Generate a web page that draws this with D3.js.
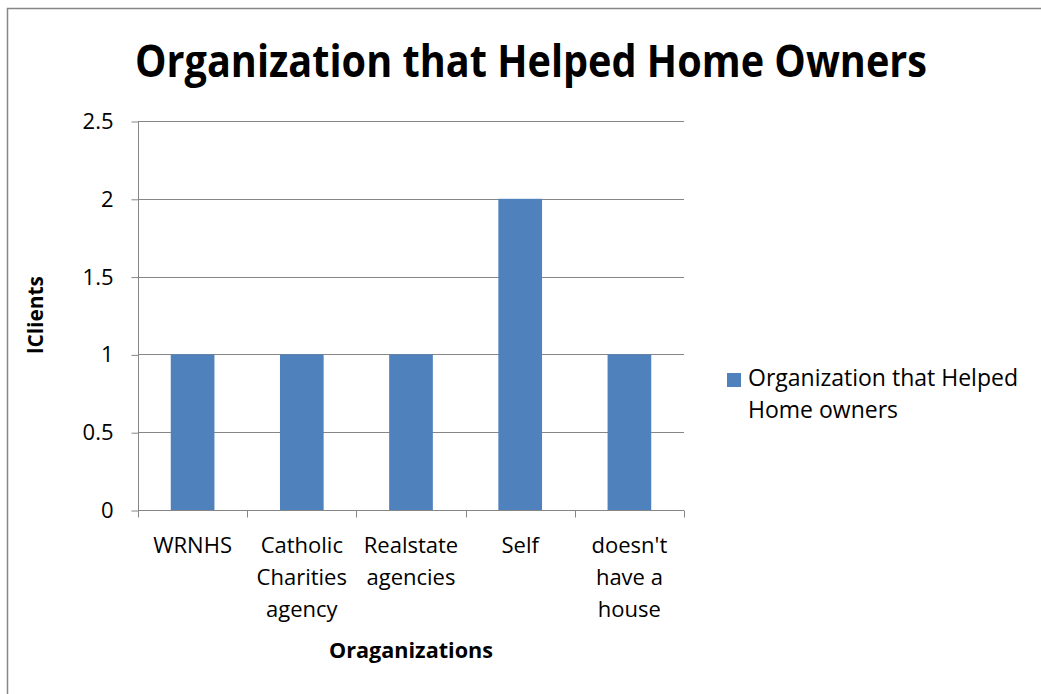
<!DOCTYPE html>
<html><head><meta charset="utf-8">
<script src="https://cdn.jsdelivr.net/npm/d3@7"></script>
<style>body{margin:0;background:#fff}svg{display:block}text{font-family:"Open Sans",sans-serif}</style>
</head><body>
<svg id="c" width="1041" height="694"></svg>
<script>
const categories = [["WRNHS"],["Catholic","Charities","agency"],["Realstate","agencies"],["Self"],["doesn't","have a","house"]];
const categoryKeys = ["WRNHS","Catholic Charities agency","Realstate agencies","Self","doesn't have a house"];
const values = [1,1,1,2,1];
const yTicks = [0,0.5,1,1.5,2,2.5];
const yTickLabels = ["0","0.5","1","1.5","2","2.5"];
const seriesName = ["Organization that Helped","Home owners"];
const title = "Organization that Helped Home Owners";

(function(){
const svg = d3.select("#c");
svg.append("rect").attr("x",7.5).attr("y",8.5).attr("width",1100).attr("height",800)
  .attr("fill","none").attr("stroke","#868686").attr("stroke-width",1.5);

const pL=138, pR=684, pT=121, pB=510;
const x = d3.scaleBand().domain(categoryKeys).range([pL,pR]).paddingInner(0.6).paddingOuter(0.3);
const xb = d3.scaleBand().domain(categoryKeys).range([pL,pR]);
const y = d3.scaleLinear().domain([0,2.5]).range([pB,pT]);

svg.append("g").selectAll("line").data(yTicks.filter(d=>d>0)).join("line")
  .attr("x1",pL).attr("x2",pR).attr("y1",d=>Math.round(y(d))+0.5).attr("y2",d=>Math.round(y(d))+0.5)
  .attr("stroke","#868686").attr("stroke-width",1);

svg.append("g").selectAll("rect").data(values).join("rect")
  .attr("x",(d,i)=>x(categoryKeys[i])).attr("width",x.bandwidth())
  .attr("y",d=>y(d)).attr("height",d=>y(0)-y(d)).attr("fill","#4f81bd");

const yAxis = d3.axisLeft(y).tickValues(yTicks).tickFormat((d,i)=>yTickLabels[i]).tickSize(7).tickPadding(18);
const gy = svg.append("g").attr("transform",`translate(${pL+0.5},0.5)`).call(yAxis);
gy.select(".domain").attr("stroke","#868686").attr("d",`M0,${pT}V${pB}`);
gy.selectAll(".tick line").attr("stroke","#868686");
gy.selectAll(".tick text").attr("font-size",22).attr("fill","#000").attr("font-family","'Open Sans',sans-serif");

const gx = svg.append("g").attr("transform",`translate(0,${pB+0.5})`);
gx.append("line").attr("x1",pL).attr("x2",pR).attr("stroke","#868686");
gx.selectAll("line.t").data(d3.range(categoryKeys.length+1)).join("line").attr("class","t")
  .attr("x1",i=>Math.round(pL+i*xb.step())+0.5).attr("x2",i=>Math.round(pL+i*xb.step())+0.5)
  .attr("y1",0).attr("y2",7).attr("stroke","#868686");
categories.forEach((lines,i)=>{
  const cx = xb(categoryKeys[i])+xb.bandwidth()/2;
  const t = gx.append("text").attr("x",cx).attr("y",42).attr("text-anchor","middle").attr("font-size",22).attr("fill","#000");
  lines.forEach((l,j)=>t.append("tspan").attr("x",cx).attr("dy",j?32:0).text(l));
});

svg.append("text").attr("x",531).attr("y",77).attr("text-anchor","middle").attr("font-size",44)
  .attr("font-weight","bold").attr("textLength",792).attr("lengthAdjust","spacingAndGlyphs").text(title);

svg.append("text").attr("x",411).attr("y",658).attr("text-anchor","middle").attr("font-size",22).attr("font-weight","bold")
  .attr("textLength",164).attr("lengthAdjust","spacingAndGlyphs").text("Oraganizations");
svg.append("text").attr("transform","translate(43,315) rotate(-90)").attr("text-anchor","middle").attr("font-size",22).attr("font-weight","bold")
  .attr("textLength",78).attr("lengthAdjust","spacingAndGlyphs").text("lClients");

svg.append("rect").attr("x",727).attr("y",373).attr("width",14).attr("height",14).attr("fill","#4f81bd");
const lt = svg.append("text").attr("x",748).attr("y",386).attr("font-size",23).attr("fill","#000");
seriesName.forEach((l,j)=>lt.append("tspan").attr("x",748).attr("dy",j?32:0).text(l));
})();
</script>
</body></html>
